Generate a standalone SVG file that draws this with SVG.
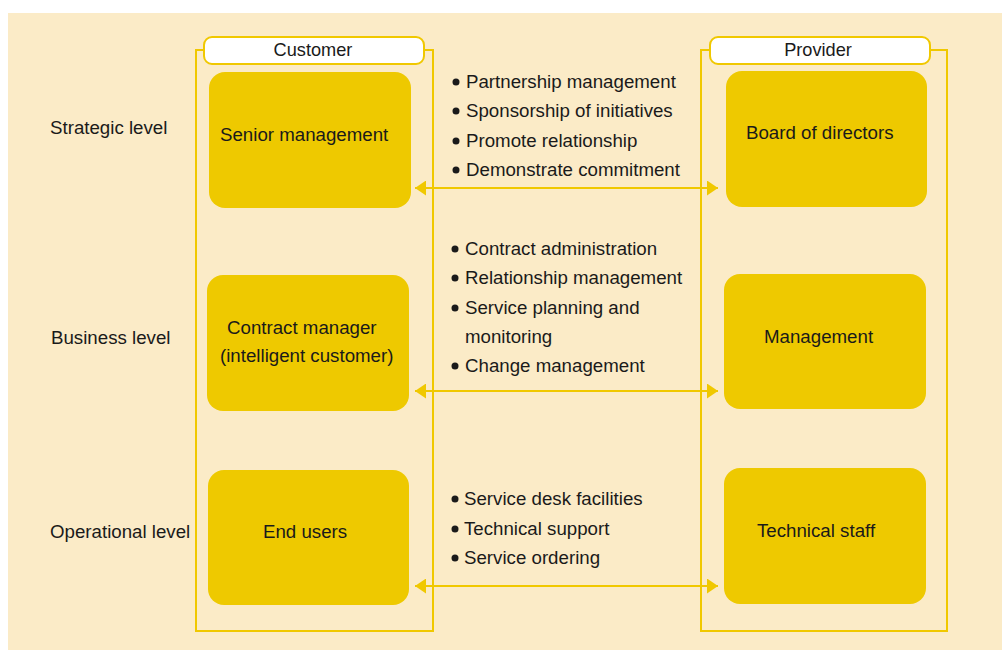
<svg xmlns="http://www.w3.org/2000/svg" width="1002" height="650" viewBox="0 0 1002 650">
<defs>
<style>
.t{font-family:"Liberation Sans",Arial,sans-serif;font-size:18.7px;fill:#1a1a1a}
.h{font-family:"Liberation Sans",Arial,sans-serif;font-size:18.2px;fill:#1a1a1a;text-anchor:middle}
.b{fill:#1a1a1a}
.box{fill:#EEC900}
.frame{fill:none;stroke:#F0C800;stroke-width:2}
.lab{fill:#fff;stroke:#F0C800;stroke-width:2}
.conn{stroke:#F0C800;stroke-width:2;fill:none;marker-start:url(#ah);marker-end:url(#ah)}
</style>
<marker id="ah" viewBox="0 0 11 15" refX="11" refY="7.5" markerWidth="11" markerHeight="15" markerUnits="userSpaceOnUse" orient="auto-start-reverse">
<path d="M0,0 L11,7.5 L0,15 Z" fill="#F0C800"/>
</marker>
</defs>
<rect x="0" y="0" width="1002" height="650" fill="#fff"/>
<rect x="8" y="13" width="994" height="637" fill="#FBEBC7"/>

<g id="levels">
<text class="t" x="50" y="134">Strategic level</text>
<text class="t" x="51" y="344">Business level</text>
<text class="t" x="50" y="538">Operational level</text>
</g>

<g id="customer">
<path class="frame" d="M204,50 H196 V631 H433 V50 H424"/>
<rect class="lab" x="204" y="37" width="220" height="27" rx="8"/>
<text class="h" x="313" y="56">Customer</text>
</g>

<g id="provider">
<path class="frame" d="M710,50 H701 V631 H947 V50 H930"/>
<rect class="lab" x="710" y="37" width="220" height="27" rx="8"/>
<text class="h" x="818" y="56">Provider</text>
</g>

<g id="senior-management">
<rect class="box" x="209" y="72" width="202" height="136" rx="16"/>
<text class="t" x="220" y="141">Senior management</text>
</g>
<g id="contract-manager">
<rect class="box" x="207" y="275" width="202" height="136" rx="16"/>
<text class="t" x="227" y="334">Contract manager</text>
<text class="t" x="220" y="362">(intelligent customer)</text>
</g>
<g id="end-users">
<rect class="box" x="208" y="470" width="201" height="135" rx="16"/>
<text class="t" x="263" y="538">End users</text>
</g>

<g id="board-of-directors">
<rect class="box" x="726" y="71" width="201" height="136" rx="16"/>
<text class="t" x="746" y="139">Board of directors</text>
</g>
<g id="management">
<rect class="box" x="724" y="274" width="202" height="135" rx="16"/>
<text class="t" x="764" y="343">Management</text>
</g>
<g id="technical-staff">
<rect class="box" x="724" y="468" width="202" height="136" rx="16"/>
<text class="t" x="757" y="537">Technical staff</text>
</g>

<g id="connectors">
<line class="conn" x1="415" y1="188" x2="718" y2="188"/>
<line class="conn" x1="415" y1="391" x2="718" y2="391"/>
<line class="conn" x1="415" y1="586" x2="718" y2="586"/>
</g>

<g id="strategic-items">
<circle class="b" cx="456" cy="82" r="3.5"/><text class="t" x="466" y="88">Partnership management</text>
<circle class="b" cx="456" cy="111" r="3.5"/><text class="t" x="466" y="117">Sponsorship of initiatives</text>
<circle class="b" cx="456" cy="141" r="3.5"/><text class="t" x="466" y="147">Promote relationship</text>
<circle class="b" cx="456" cy="170" r="3.5"/><text class="t" x="466" y="176">Demonstrate commitment</text>
</g>
<g id="business-items">
<circle class="b" cx="455" cy="249" r="3.5"/><text class="t" x="465" y="255">Contract administration</text>
<circle class="b" cx="455" cy="278" r="3.5"/><text class="t" x="465" y="284">Relationship management</text>
<circle class="b" cx="455" cy="308" r="3.5"/><text class="t" x="465" y="314">Service planning and</text>
<text class="t" x="465" y="343">monitoring</text>
<circle class="b" cx="455" cy="366" r="3.5"/><text class="t" x="465" y="372">Change management</text>
</g>
<g id="operational-items">
<circle class="b" cx="455" cy="499" r="3.5"/><text class="t" x="464" y="505">Service desk facilities</text>
<circle class="b" cx="455" cy="529" r="3.5"/><text class="t" x="464" y="535">Technical support</text>
<circle class="b" cx="455" cy="558" r="3.5"/><text class="t" x="464" y="564">Service ordering</text>
</g>
</svg>
